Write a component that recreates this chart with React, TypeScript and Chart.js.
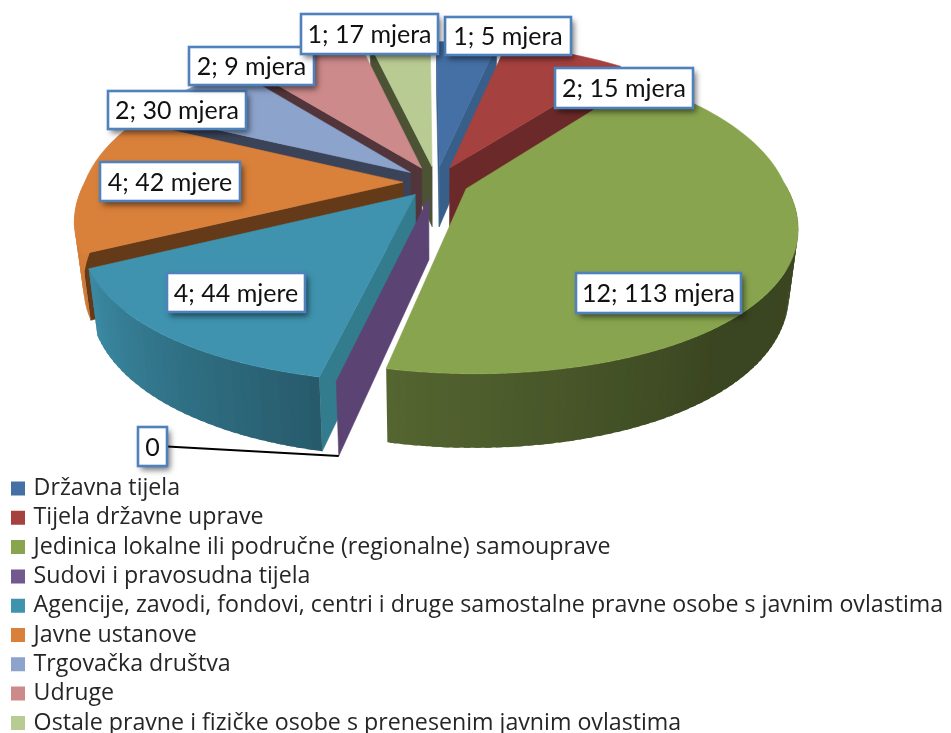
import React, { useEffect, useRef } from "react";
import { Chart, registerables } from "chart.js";

Chart.register(...registerables);

const categories = [
  "Državna tijela",
  "Tijela državne uprave",
  "Jedinica lokalne ili područne (regionalne) samouprave",
  "Sudovi i pravosudna tijela",
  "Agencije, zavodi, fondovi, centri i druge samostalne pravne osobe s javnim ovlastima",
  "Javne ustanove",
  "Trgovačka društva",
  "Udruge",
  "Ostale pravne i fizičke osobe s prenesenim javnim ovlastima",
];
const bodyCounts = [1, 2, 12, 0, 4, 4, 2, 2, 1];
const dataLabels = [
  "1; 5 mjera",
  "2; 15 mjera",
  "12; 113 mjera",
  "0",
  "4; 44 mjere",
  "4; 42 mjere",
  "2; 30 mjera",
  "2; 9 mjera",
  "1; 17 mjera",
];
const topColors = ["#4470A5", "#A5413F", "#89A44E", "#71588F", "#3F93AE", "#D9803A", "#8CA3CC", "#CC8A8A", "#B8CB93"];
const wallColors = ["#375F8A", "#6B2A29", "#4F5D2B", "#5B4474", "#327C8E", "#653A18", "#3A4358", "#52353A", "#4C5335"];

// label boxes: left, top, right, bottom
const labelBoxes: Record<number, number[]> = {
  0: [445, 17, 571, 55],
  1: [555, 68, 693, 108],
  2: [576, 273, 741, 313],
  3: [138, 427, 167, 466],
  4: [167, 273, 305, 312],
  5: [100, 162, 240, 201],
  6: [108, 91, 246, 129],
  7: [189, 47, 314, 85],
  8: [301, 14, 438, 54],
};
const labelOrder = [0, 1, 2, 3, 4, 5, 6, 7, 8];

const PIE = {
  cx: 436,
  cy: 182,
  radius: 318,
  offset: 66,
  squash: 0.475,
  perspXNear: 0.00072,
  perspXFar: 0.0005,
  perspY: 0.000534,
  depth: 61,
  taper: 0.025,
};

const shadeStops = [
  [0, 0.45],
  [90, 0.44],
  [140, 0.42],
  [193, 0.62],
  [245, 0.95],
  [270, 1],
  [360, 1],
];

function shadeAt(theta: number) {
  const t = ((theta % 360) + 360) % 360;
  for (let i = 1; i < shadeStops.length; i++) {
    if (t <= shadeStops[i][0]) {
      const [a, fa] = shadeStops[i - 1];
      const [b, fb] = shadeStops[i];
      return fa + ((fb - fa) * (t - a)) / (b - a);
    }
  }
  return 1;
}

function scaled(hex: string, f: number) {
  const n = parseInt(hex.slice(1), 16);
  const c = [(n >> 16) & 255, (n >> 8) & 255, n & 255].map((v) => Math.round(v * f));
  return `rgb(${c[0]},${c[1]},${c[2]})`;
}

function project(cx: number, cy: number, X: number, Y: number, z: number) {
  const sx = 1 / (1 - (Y > 0 ? PIE.perspXNear : PIE.perspXFar) * Y);
  const sy = 1 / (1 - PIE.perspY * Y);
  const sz = 1 - PIE.taper * z;
  return [cx + X * sx * sz, cy + PIE.squash * Y * sy + PIE.depth * sy * z];
}

function poly(ctx: CanvasRenderingContext2D, pts: number[][], fill: string, stroke = true) {
  ctx.beginPath();
  pts.forEach((p, i) => (i ? ctx.lineTo(p[0], p[1]) : ctx.moveTo(p[0], p[1])));
  ctx.closePath();
  ctx.fillStyle = fill;
  ctx.fill();
  if (stroke) {
    ctx.strokeStyle = fill;
    ctx.lineWidth = 0.6;
    ctx.stroke();
  }
}

function sliceGeometry(el: any) {
  const g = el.getProps(["x", "y", "startAngle", "endAngle", "outerRadius"], true);
  const mid = (g.startAngle + g.endAngle) / 2;
  const d = (el.options.offset || 0) / 2;
  return { ...g, ox: Math.cos(mid) * d, oy: Math.sin(mid) * d, mid };
}

const pie3d = {
  id: "pie3d",
  afterLayout(chart: any) {
    const size = PIE.cx * 2;
    chart.chartArea = { left: 0, top: 0, right: size, bottom: PIE.cy * 2, width: size, height: PIE.cy * 2 };
    const lg = chart.legend;
    lg.left = 14 - lg.options.labels.padding;
    lg.right = chart.width;
    lg.width = lg.right - lg.left;
    lg.top = 476.9 - lg.options.labels.padding;
    lg.bottom = chart.height + 40;
    lg.height = lg.bottom - lg.top;
  },
  beforeDatasetDraw() {
    return false;
  },
  beforeDatasetsDraw(chart: any) {
    const ctx: CanvasRenderingContext2D = chart.ctx;
    const meta = chart.getDatasetMeta(0);
    const order = meta.data
      .map((el: any, i: number) => ({ i, g: sliceGeometry(el) }))
      .sort((a: any, b: any) => Math.sin(a.g.mid) - Math.sin(b.g.mid));
    ctx.save();
    for (const { i, g } of order) {
      const P = (ang: number, r: number, z: number) =>
        project(g.x, g.y, g.ox + Math.cos(ang) * r, g.oy + Math.sin(ang) * r, z);
      const R = g.outerRadius;
      const wall = (a: number) => poly(ctx, [P(a, 0, 0), P(a, R, 0), P(a, R, 1), P(a, 0, 1)], wallColors[i]);
      // radial walls, only when they face the viewer
      if (Math.cos(g.startAngle) < 0) wall(g.startAngle);
      if (g.endAngle > g.startAngle && Math.cos(g.endAngle) > 0) wall(g.endAngle);
      // outer curved wall, overlapping segments hide the seams
      const step = Math.PI / 120;
      for (let a = g.startAngle; a < g.endAngle - 1e-6; a += step) {
        const b = Math.min(a + step, g.endAngle);
        const c = Math.min(a + step * 1.6, g.endAngle);
        if (Math.sin((a + b) / 2) < -0.05) continue;
        const theta = (((a + b) / 2 + Math.PI / 2) * 180) / Math.PI;
        poly(ctx, [P(a, R, 0), P(c, R, 0), P(c, R, 1), P(a, R, 1)], scaled(topColors[i], shadeAt(theta)), false);
      }
      // top face
      if (g.endAngle > g.startAngle) {
        const pts = [P(g.startAngle, 0, 0)];
        for (let a = g.startAngle; a < g.endAngle; a += step) pts.push(P(a, R, 0));
        pts.push(P(g.endAngle, R, 0));
        poly(ctx, pts, topColors[i]);
      }
    }
    ctx.restore();
  },
  afterDatasetsDraw(chart: any) {
    const ctx: CanvasRenderingContext2D = chart.ctx;
    const meta = chart.getDatasetMeta(0);
    ctx.save();
    // leader line of the empty slice
    const zero = bodyCounts.indexOf(0);
    const g = sliceGeometry(meta.data[zero]);
    const end = project(g.x, g.y, g.ox + Math.cos(g.startAngle) * g.outerRadius, g.oy + Math.sin(g.startAngle) * g.outerRadius, 1);
    const zb = labelBoxes[zero];
    ctx.beginPath();
    ctx.moveTo(zb[2], (zb[1] + zb[3]) / 2);
    ctx.lineTo(end[0], end[1]);
    ctx.strokeStyle = "#000";
    ctx.lineWidth = 2;
    ctx.stroke();
    ctx.font = "25px Lato";
    ctx.textAlign = "center";
    ctx.textBaseline = "middle";
    for (const i of labelOrder) {
      const [l, t, r, b] = labelBoxes[i];
      ctx.save();
      ctx.shadowColor = "rgba(0,0,0,0.55)";
      ctx.shadowBlur = 6;
      ctx.shadowOffsetX = 3;
      ctx.shadowOffsetY = 4;
      ctx.fillStyle = "#fff";
      ctx.fillRect(l, t, r - l, b - t);
      ctx.restore();
      ctx.strokeStyle = "#4F81BD";
      ctx.lineWidth = 2.6;
      ctx.strokeRect(l, t, r - l, b - t);
      ctx.fillStyle = "#111";
      ctx.fillText(dataLabels[i], (l + r) / 2, (t + b) / 2 + 1);
    }
    ctx.restore();
  },
};

export default function App() {
  const ref = useRef<HTMLCanvasElement | null>(null);
  useEffect(() => {
    const chart = new Chart(ref.current as HTMLCanvasElement, {
      type: "pie",
      data: {
        labels: categories,
        datasets: [
          {
            data: bodyCounts,
            backgroundColor: topColors,
            borderWidth: 0,
            offset: PIE.offset,
            clip: false,
          } as any,
        ],
      },
      options: {
        responsive: false,
        animation: false,
        rotation: -0.5,
        radius: PIE.radius,
        layout: { padding: 0 },
        events: [],
        plugins: {
          tooltip: { enabled: false },
          legend: {
            position: "left",
            align: "start",
            labels: {
              font: { family: '"Open Sans"', size: 23.2 },
              color: "#262626",
              usePointStyle: true,
              pointStyle: "rect",
              boxWidth: 8,
              boxHeight: 14,
              padding: 6.1,
            },
          },
        },
      } as any,
      plugins: [pie3d as any],
    });
    return () => chart.destroy();
  }, []);
  return (
    <canvas
      ref={ref}
      width={951}
      height={733}
      style={{ position: "fixed", left: 0, top: 0, width: 951, height: 733, display: "block" }}
    />
  );
}
